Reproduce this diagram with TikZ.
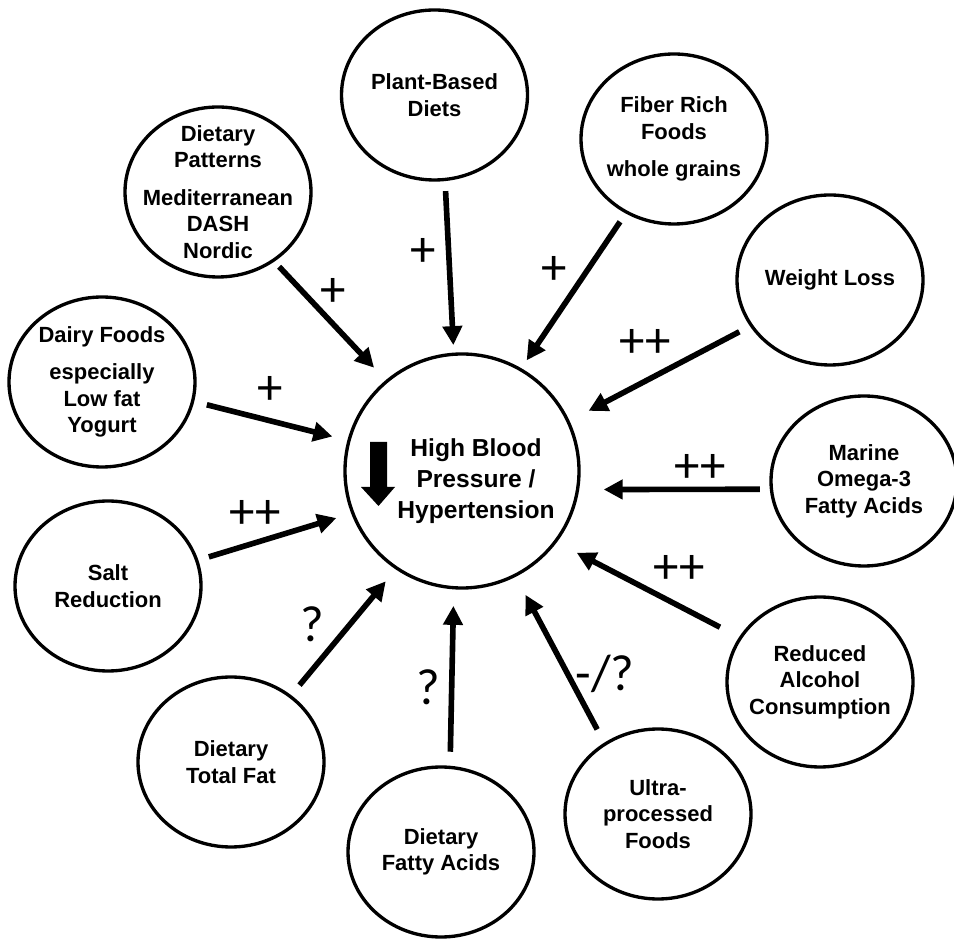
\documentclass[tikz,border=0pt]{standalone}
\usepackage{fontspec}
\setmainfont{Liberation Sans}
\newfontfamily\signfont{Carlito}
\usetikzlibrary{arrows.meta,positioning,shapes.geometric}

\begin{document}
\begin{tikzpicture}[
  factor/.style={draw, ellipse, line width=1.9pt, minimum width=3.72cm, minimum height=3.4cm, inner sep=0pt},
  factortext/.style={font=\fontsize{12.5}{15}\selectfont\bfseries, align=center},
  effect/.style={line width=3.2pt, -{Triangle[length=0.38cm,width=0.38cm]}},
  sign/.style={font=\signfont\fontsize{29}{30}\selectfont, inner sep=0pt},
]
  \useasboundingbox (0,0) rectangle (19.08,18.76);

  % Outcome in the middle
  \node[draw, circle, line width=1.9pt, minimum size=4.68cm, inner sep=0pt] (hbp) at (9.24,9.34) {};
  \node[font=\fontsize{14}{17.6}\selectfont\bfseries, align=center] (hbptext) at (9.52,9.14) {High Blood\\Pressure /\\Hypertension};
  \fill (7.40,9.92) -- (7.74,9.92) -- (7.74,9.02) -- (7.90,9.02) -- (7.57,8.64) -- (7.22,9.02) -- (7.40,9.02) -- cycle;

  % Dietary factors
  \node[factor, label={[factortext]center:{Plant-Based\\Diets}}] (plant) at (8.69,16.86) {};
  \node[factor, label={[factortext]center:{Dietary\\Patterns\\[0.22cm]Mediterranean\\DASH\\Nordic}}] (patterns) at (4.36,14.92) {};
  \node[factor, label={[factortext]center:{Dairy Foods\\[0.22cm]especially\\Low fat\\Yogurt}}] (dairy) at (2.04,11.12) {};
  \node[factor, label={[factortext]center:{Fiber Rich\\Foods\\[0.22cm]whole grains}}] (fiber) at (13.48,15.98) {};
  \node[factor, label={[factortext]center:{Weight Loss}}] (weight) at (16.60,13.16) {};
  \node[factor, label={[factortext]center:{Marine\\Omega-3\\Fatty Acids}}] (marine) at (17.28,9.14) {};
  \node[factor, label={[factortext]center:{Reduced\\Alcohol\\Consumption}}] (alcohol) at (16.40,5.12) {};
  \node[factor, label={[factortext]center:{Ultra-\\processed\\Foods}}] (ultra) at (13.16,2.48) {};
  \node[factor, label={[factortext]center:{Dietary\\Fatty Acids}}] (fatty) at (8.82,1.72) {};
  \node[factor, label={[factortext]center:{Dietary\\Total Fat}}] (totalfat) at (4.62,3.52) {};
  \node[factor, label={[factortext]center:{Salt\\Reduction}}] (salt) at (2.16,7.04) {};

  % Effects
  \draw[effect, shorten <=0.14cm, shorten >=0.34cm] (patterns.-51) -- (hbp.130);
  \draw[effect, shorten <=0.20cm, shorten >=0.15cm] (plant.-83) -- (hbp.94);
  \draw[effect, shorten <=0.26cm, shorten >=0.31cm] (dairy.-12) -- (hbp.165);
  \draw[effect, shorten <=0.20cm, shorten >=0.19cm] (fiber.-123) -- (hbp.60);
  \draw[effect, shorten <=0.24cm, shorten >=0.43cm] (weight.-150) -- (hbp.25);
  \draw[effect, shorten <=0.20cm, shorten >=0.49cm] (marine.-175) -- (hbp.-9);
  \draw[effect, shorten <=0.43cm, shorten >=0.45cm] (alcohol.151) -- (hbp.-37);
  \draw[effect, shorten <=0.30cm, shorten >=0.41cm] (ultra.127) -- (hbp.-63);
  \draw[effect, shorten <=0.28cm, shorten >=0.33cm] (fatty.84) -- (hbp.-94);
  \draw[effect, shorten <=0.26cm, shorten >=0.31cm] (totalfat.48) -- (hbp.-124);
  \draw[effect, shorten <=0.22cm, shorten >=0.31cm] (salt.16) -- (hbp.-159);

  % Signs
  \node[sign] (spatterns) at (6.66,12.92) {+};
  \node[sign] (splant) at (8.46,13.72) {+};
  \node[sign] (sdairy) at (5.40,10.96) {+};
  \node[sign] (sfiber) at (11.08,13.36) {+};
  \node[sign] (sweight) at (12.90,11.90) {++};
  \node[sign] (smarine) at (14.00,9.40) {++};
  \node[sign] (salcohol) at (13.58,7.38) {++};
  \node[sign] (sultra) at (12.10,5.28) {-/?};
  \node[sign] (sfatty) at (8.56,5.02) {?};
  \node[sign] (stotalfat) at (6.24,6.28) {?};
  \node[sign] (ssalt) at (5.10,8.48) {++};
\end{tikzpicture}
\end{document}
